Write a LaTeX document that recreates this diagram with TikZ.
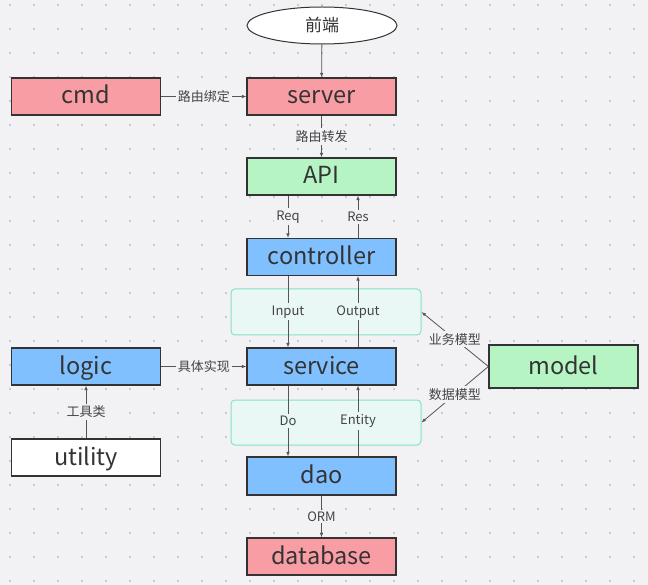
\documentclass[tikz,border=0pt]{standalone}
\usepackage{fontspec}
\setmainfont{Noto Sans CJK SC}
\usetikzlibrary{arrows.meta,shapes.geometric}
\definecolor{bgc}{HTML}{F2F2F5}
\definecolor{dotc}{HTML}{C9C9D1}
\definecolor{redf}{HTML}{F99DA5}
\definecolor{greenf}{HTML}{B6F5C3}
\definecolor{bluef}{HTML}{80C0FF}
\definecolor{tealf}{HTML}{E9F8F5}
\definecolor{teald}{HTML}{86E0C6}
\definecolor{edgec}{HTML}{333333}
\definecolor{linec}{HTML}{555555}
\definecolor{labc}{HTML}{444444}
\begin{document}
\begin{tikzpicture}[x=1pt,y=-1pt,
  box/.style={draw=edgec,line width=1.2pt,minimum width=149pt,minimum height=37pt,inner sep=0pt,text height=17pt,text depth=2pt,font=\fontsize{23.5}{26}\selectfont,text=edgec},
  redbox/.style={box,fill=redf},
  greenbox/.style={box,fill=greenf},
  bluebox/.style={box,fill=bluef},
  whitebox/.style={box,fill=white},
  groupbox/.style={draw=teald,fill=tealf,line width=1pt,rounded corners=4pt,minimum width=190pt,minimum height=46pt,inner sep=0pt},
  conn/.style={draw=linec,line width=0.8pt,-{Latex[length=4.5pt,width=3.5pt]}},
  lab/.style={fill=bgc,text=labc,font=\fontsize{13}{15}\selectfont,inner sep=2pt}
]
\fill[bgc] (0,0) rectangle (648,585);
\useasboundingbox (0,0) rectangle (648,585);
\foreach \i in {0,...,26}{
  \foreach \j in {0,...,24}{
    \fill[dotc] ({10+24*\i-1.2},{5+24*\j-1.2}) rectangle ++(2.4,2.4);
  }
}
% group boxes
\node[groupbox] (g1) at (326,312) {};
\node[groupbox,minimum height=45pt] (g2) at (326,422.5) {};
% nodes
\node[draw=edgec,fill=white,ellipse,line width=1pt,minimum width=150pt,minimum height=37pt,inner sep=0pt,font=\fontsize{17}{20}\selectfont,text=edgec] (front) at (322,25.5) {前端};
\node[redbox] (cmd) at (86,96.5) {cmd};
\node[redbox] (server) at (321.5,96.5) {server};
\node[greenbox] (api) at (321.5,176.5) {API};
\node[bluebox] (controller) at (321.5,257) {controller};
\node[bluebox] (service) at (321.5,366.5) {service};
\node[bluebox] (logic) at (86,366.5) {logic};
\node[whitebox] (utility) at (86,457.5) {utility};
\node[bluebox,minimum height=38pt] (dao) at (321.5,476) {dao};
\node[redbox] (database) at (321.5,556.5) {database};
\node[greenbox,minimum height=43pt] (model) at (563.5,366.5) {model};
% connectors
\draw[conn] (front) -- (server);
\draw[conn] (cmd) -- node[lab] {路由绑定} (server);
\draw[conn] (server) -- node[lab] {路由转发} (api);
\draw[conn] ([xshift=-33.5pt]api.south) -- node[lab] {Req} ([xshift=-33.5pt]controller.north);
\draw[conn] ([xshift=36.5pt]controller.north) -- node[lab] {Res} ([xshift=36.5pt]api.south);
\draw[conn] ([xshift=-33.5pt]controller.south) -- node[lab,fill=tealf] {Input} ([xshift=-33.5pt]service.north);
\draw[conn] ([xshift=36.5pt]service.north) -- node[lab,fill=tealf] {Output} ([xshift=36.5pt]controller.south);
\draw[conn] ([xshift=-33.5pt]service.south) -- node[lab,fill=tealf] {Do} ([xshift=-33.5pt]dao.north);
\draw[conn] ([xshift=36.5pt]dao.north) -- node[lab,fill=tealf] {Entity} ([xshift=36.5pt]service.south);
\draw[conn] (dao) -- node[lab] {ORM} (database);
\draw[conn] (logic) -- node[lab] {具体实现} (service);
\draw[conn] (utility) -- node[lab] {工具类} (logic);
\draw[conn] (model.west) -- node[lab] {业务模型} (g1.east);
\draw[conn] (model.west) -- node[lab] {数据模型} (g2.east);
\end{tikzpicture}
\end{document}
